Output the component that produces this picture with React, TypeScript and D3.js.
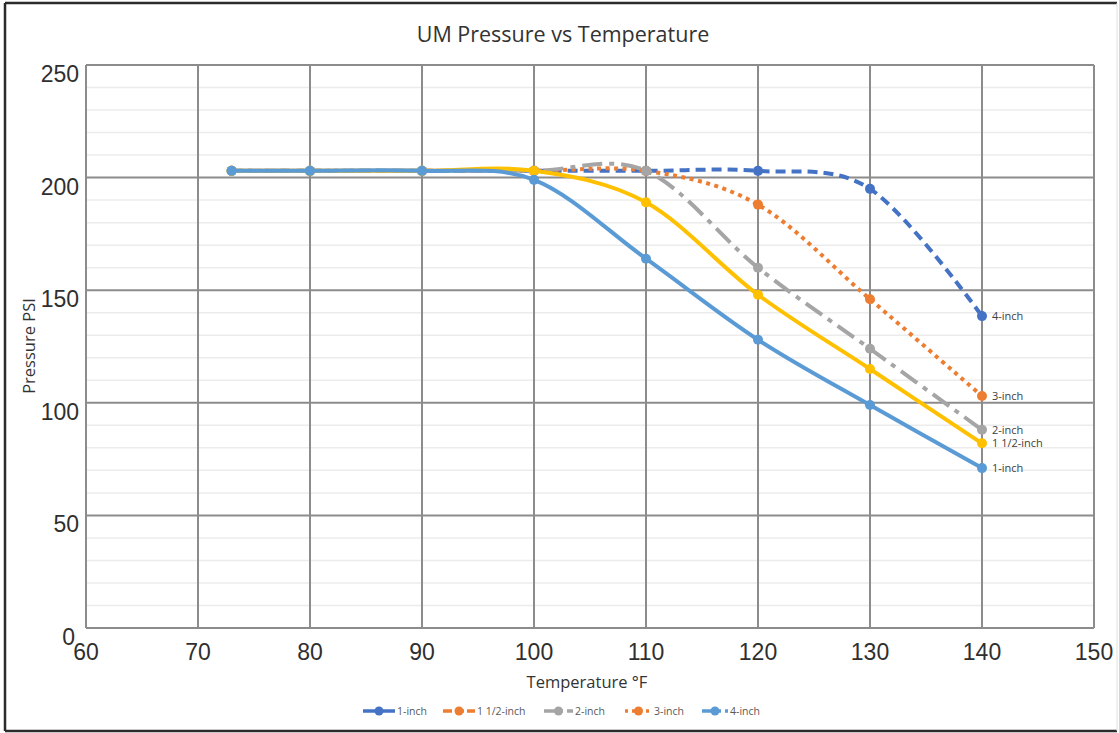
import React from "react";
import * as d3 from "d3";

const temps = [73, 80, 90, 100, 110, 120, 130, 140];
const oneInch = [203, 203, 203, 199, 164, 128, 99, 71];
const oneHalfInch = [203, 203, 203, 203, 189, 148, 115, 82];
const twoInch = [203, 203, 203, 203, 203, 160, 124, 88];
const threeInch = [203, 203, 203, 203, 203, 188, 146, 103];
const fourInch = [203, 203, 203, 203, 203, 203, 195, 138.5];

const xTicks = [60, 70, 80, 90, 100, 110, 120, 130, 140, 150];
const yTicks = [0, 50, 100, 150, 200, 250];
const yMinor = [10, 20, 30, 40, 60, 70, 80, 90, 110, 120, 130, 140, 160, 170, 180, 190, 210, 220, 230, 240];

const legendNames = ["1-inch", "1 1/2-inch", "2-inch", "3-inch", "4-inch"];

const W = 1119;
const H = 733;
const left = 86;
const right = 1094;
const top = 65;
const bottom = 628;

// drawn bottom -> top
const series = [
  { label: "4-inch", values: fourInch, color: "#4472C4", dash: "10 6", cap: "butt" },
  { label: "3-inch", values: threeInch, color: "#ED7D31", dash: "4 4.5", cap: "butt" },
  { label: "2-inch", values: twoInch, color: "#A5A5A5", dash: "20 7 5 7", cap: "butt" },
  { label: "1 1/2-inch", values: oneHalfInch, color: "#FFC000", dash: "", cap: "round" },
  { label: "1-inch", values: oneInch, color: "#5B9BD5", dash: "", cap: "round" },
];

const legendStyles = [
  { color: "#4472C4", dash: "" },
  { color: "#ED7D31", dash: "9 3" },
  { color: "#A5A5A5", dash: "12 4 3 4" },
  { color: "#ED7D31", dash: "3 4" },
  { color: "#5B9BD5", dash: "12 4 3 4" },
];
const legendX = [363, 443, 544, 625, 702];
const legendLen = [32, 32, 29, 27, 26];

export default function App() {
  const x = d3.scaleLinear().domain([60, 150]).range([left, right]);
  const y = d3.scaleLinear().domain([0, 250]).range([bottom, top]);
  const line = d3
    .line<[number, number]>()
    .x((d) => x(d[0]))
    .y((d) => y(d[1]))
    .curve(d3.curveCatmullRom.alpha(0));

  const tickFont = "'Liberation Sans', Arial, sans-serif";
  const textFont = "'Open Sans', 'Noto Sans', sans-serif";

  return (
    <svg
      width={W}
      height={H}
      style={{ position: "absolute", left: 0, top: 0, background: "#fff" }}
    >
      <rect x={0} y={0} width={W} height={H} fill="#fff" />
      {/* frame */}
      <line x1={5} y1={3} x2={1117} y2={3} stroke="#2b2b2b" strokeWidth={2.5} />
      <line x1={5} y1={3} x2={5} y2={731} stroke="#2b2b2b" strokeWidth={2.5} />
      <line x1={5} y1={731} x2={1117} y2={731} stroke="#2b2b2b" strokeWidth={2.5} />
      <line x1={1117} y1={3} x2={1117} y2={731} stroke="#e0e0e0" strokeWidth={1} />

      {/* minor grid */}
      {yMinor.map((v) => (
        <line key={"m" + v} x1={left} x2={right} y1={y(v)} y2={y(v)} stroke="#ececec" strokeWidth={1.5} />
      ))}
      {/* major horizontal grid */}
      {yTicks.map((v) => (
        <line key={"h" + v} x1={left} x2={right} y1={y(v)} y2={y(v)} stroke="#8c8c8c" strokeWidth={2} />
      ))}
      {/* vertical grid */}
      {xTicks.map((v) => (
        <line key={"v" + v} x1={x(v)} x2={x(v)} y1={top} y2={bottom} stroke="#8c8c8c" strokeWidth={2} />
      ))}

      {/* y tick labels */}
      {yTicks.map((v) => (
        <text
          key={"yl" + v}
          x={v === 0 ? 75 : 79}
          y={y(v) + 17}
          textAnchor="end"
          fontFamily={tickFont}
          fontSize={23}
          fill="#2f2f2f"
        >
          {v}
        </text>
      ))}
      {/* x tick labels */}
      {xTicks.map((v) => (
        <text
          key={"xl" + v}
          x={x(v)}
          y={660}
          textAnchor="middle"
          fontFamily={tickFont}
          fontSize={23}
          fill="#2f2f2f"
        >
          {v}
        </text>
      ))}

      {/* title */}
      <text x={563} y={42} textAnchor="middle" fontFamily={textFont} fontSize={21.5} fill="#333">
        UM Pressure vs Temperature
      </text>
      {/* axis titles */}
      <text
        transform={`translate(35,346) rotate(-90)`}
        textAnchor="middle"
        fontFamily={textFont}
        fontSize={16.5}
        fill="#333"
      >
        Pressure PSI
      </text>
      <text x={587} y={688} textAnchor="middle" fontFamily={textFont} fontSize={16.5} fill="#333">
        Temperature °F
      </text>

      {/* series */}
      {series.map((s) => {
        const pts = temps.map((t, i) => [t, s.values[i]] as [number, number]);
        return (
          <g key={s.label}>
            <path
              d={line(pts) || ""}
              fill="none"
              stroke={s.color}
              strokeWidth={4}
              strokeDasharray={s.dash || undefined}
              strokeLinecap={s.cap as any}
            />
            {pts.map((p, i) => (
              <circle key={i} cx={x(p[0])} cy={y(p[1])} r={5} fill={s.color} />
            ))}
          </g>
        );
      })}

      {/* end labels */}
      {series.map((s) => {
        const last = s.values[s.values.length - 1];
        return (
          <text
            key={"el" + s.label}
            x={x(temps[temps.length - 1]) + 10}
            y={y(last) + 4}
            fontFamily={textFont}
            fontSize={11}
            fill="#404040"
          >
            {s.label}
          </text>
        );
      })}

      {/* legend */}
      {legendNames.map((name, i) => {
        const lx = legendX[i];
        const len = legendLen[i];
        const st = legendStyles[i];
        return (
          <g key={"lg" + name}>
            <line
              x1={lx}
              x2={lx + len}
              y1={711}
              y2={711}
              stroke={st.color}
              strokeWidth={3.5}
              strokeDasharray={st.dash || undefined}
            />
            <circle cx={lx + len / 2} cy={711} r={4.5} fill={st.color} />
            <text x={lx + len + 2} y={715} fontFamily={textFont} fontSize={10.5} fill="#595959">
              {name}
            </text>
          </g>
        );
      })}
    </svg>
  );
}
